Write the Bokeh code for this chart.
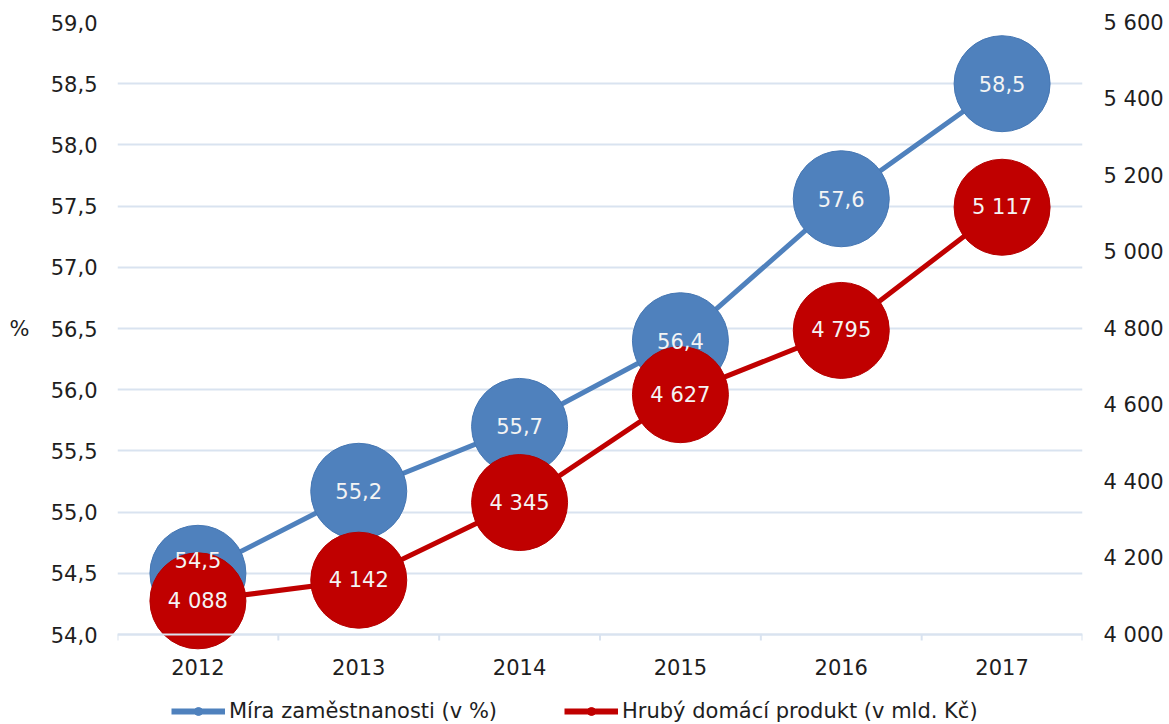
import numpy as np
from bokeh.plotting import figure
from bokeh.models import (Range1d, LinearAxis, FixedTicker, ColumnDataSource,
                          Legend, LegendItem, Span)
from bokeh.core.properties import value
from bokeh.embed import file_html
from bokeh.resources import INLINE

# ---------------- data ----------------
years = ["2012", "2013", "2014", "2015", "2016", "2017"]
employment = [54.5, 55.17, 55.7, 56.4, 57.56, 58.5]        # Míra zaměstnanosti (v %)
gdp = [4088, 4142, 4345, 4627, 4795, 5117]                  # HDP (v mld. Kč)
left_ticks = [54.0, 54.5, 55.0, 55.5, 56.0, 56.5, 57.0, 57.5, 58.0, 58.5, 59.0]
right_ticks = [4000, 4200, 4400, 4600, 4800, 5000, 5200, 5400, 5600]
series_names = ["Míra zaměstnanosti (v %)", "Hrubý domácí produkt (v mld. Kč)"]
left_title = "%"

# ---------------- styles / layout ----------------
FONT = "DejaVu Sans"
FS = "21px"
BLUE = "#4F81BD"
RED = "#C00000"
GRID = "#D9E3F0"
TXT = "#1E1E1E"
emp_label_dy = [-13, 0, 0, 0, 0, 0]   # label nudges (px), style only

W, H = 1167, 723
TOP, BASE = 22, 634          # canvas px of top gridline and of the base line
LEFT, RIGHT = 117, 1082      # canvas px of plot area edges
TICK_PX = 6
YEAR_DY = 32

px_per_unit = (BASE - TOP) / (left_ticks[-1] - left_ticks[0])
ext = (H - BASE) / px_per_unit                      # range extension below 54
ratio = (right_ticks[-1] - right_ticks[0]) / (left_ticks[-1] - left_ticks[0])


def cz_dec(v):
    return f"{v:.1f}".replace(".", ",")


def cz_thousands(v):
    return f"{int(v):,}".replace(",", " ")


x = list(np.arange(len(years)) + 0.5)
bounds = list(range(len(years) + 1))
y0 = left_ticks[0]
y_mid = (left_ticks[0] + left_ticks[-1]) / 2

src_emp = ColumnDataSource(dict(x=x, y=employment,
                                lab=[cz_dec(v) for v in employment],
                                dy=emp_label_dy))
src_gdp = ColumnDataSource(dict(x=x, y=gdp,
                                lab=[cz_thousands(v) for v in gdp]))

p = figure(width=W, height=H,
           x_range=Range1d(0, len(years)),
           y_range=Range1d(y0 - ext, left_ticks[-1]),
           output_backend="svg", toolbar_location=None,
           min_border_left=LEFT, min_border_right=W - RIGHT, min_border_top=TOP,
           min_border_bottom=0)
p.extra_y_ranges = {"gdp": Range1d(right_ticks[0] - ext * ratio, right_ticks[-1])}
p.outline_line_color = None
p.background_fill_color = "white"
p.border_fill_color = "white"
p.xaxis.visible = False


def style_axis(ax, standoff):
    ax.axis_line_color = None
    ax.major_tick_line_color = None
    ax.minor_tick_line_color = None
    ax.major_tick_out = 0
    ax.major_tick_in = 0
    ax.major_label_standoff = standoff
    ax.major_label_text_font = FONT
    ax.major_label_text_font_size = FS
    ax.major_label_text_color = TXT


# left y axis
ya = p.yaxis[0]
ya.ticker = FixedTicker(ticks=left_ticks)
ya.major_label_overrides = {float(t): cz_dec(t) for t in left_ticks}
style_axis(ya, 20)

# outer left axis carrying only the "%" title, level with the middle tick
ta = LinearAxis(ticker=FixedTicker(ticks=[y_mid]))
ta.major_label_overrides = {float(y_mid): left_title}
style_axis(ta, 18)
p.add_layout(ta, "left")

# right y axis
ra = LinearAxis(y_range_name="gdp", ticker=FixedTicker(ticks=right_ticks))
ra.major_label_overrides = {int(t): cz_thousands(t) for t in right_ticks}
style_axis(ra, 21)
p.add_layout(ra, "right")

p.xgrid.grid_line_color = None
p.ygrid.ticker = FixedTicker(ticks=left_ticks)
p.ygrid.grid_line_color = GRID
p.ygrid.grid_line_width = 2

# category axis drawn by hand (base line, boundary ticks, year labels)
p.add_layout(Span(location=y0, dimension="width", line_color=GRID, line_width=2))
p.segment(x0=bounds, y0=[y0] * len(bounds), x1=bounds,
          y1=[y0 - TICK_PX / px_per_unit] * len(bounds),
          line_color=GRID, line_width=2)
p.text(x=x, y=[y0] * len(x), text=years, y_offset=YEAR_DY,
       text_align="center", text_baseline="middle",
       text_font=value(FONT), text_font_size=FS, text_color=TXT)

# ---------- series ----------
p.line("x", "y", source=src_emp, line_color=BLUE, line_width=5)
p.scatter("x", "y", source=src_emp, size=96, fill_color=BLUE,
          line_color="#4677B3", line_width=1)
p.line("x", "y", source=src_gdp, line_color=RED, line_width=5, y_range_name="gdp")
p.scatter("x", "y", source=src_gdp, size=96, fill_color=RED,
          line_color="#B50000", line_width=1, y_range_name="gdp")

p.text("x", "y", text="lab", source=src_emp, y_offset="dy",
       text_align="center", text_baseline="middle",
       text_font=value(FONT), text_font_size=FS, text_color="#F4F4F4")
p.text("x", "y", text="lab", source=src_gdp, y_range_name="gdp",
       text_align="center", text_baseline="middle",
       text_font=value(FONT), text_font_size=FS, text_color="#F4F4F4")

# ---------- legend (invisible stand-in renderers) ----------
nan = float("nan")
lb1 = p.line(x=[nan], y=[nan], line_color=BLUE, line_width=6)
sb1 = p.scatter(x=[nan], y=[nan], size=11, fill_color=BLUE, line_color=BLUE)
lb2 = p.line(x=[nan], y=[nan], line_color=RED, line_width=6)
sb2 = p.scatter(x=[nan], y=[nan], size=11, fill_color=RED, line_color=RED)

legend = Legend(items=[LegendItem(label=series_names[0], renderers=[lb1, sb1]),
                       LegendItem(label=series_names[1], renderers=[lb2, sb2])],
                orientation="horizontal", location=(171 - LEFT, 0),
                glyph_width=54, glyph_height=20, label_standoff=4,
                spacing=67, padding=0, margin=0,
                border_line_color=None, background_fill_alpha=0,
                label_text_font=FONT, label_text_font_size=FS,
                label_text_color=TXT)
p.add_layout(legend)

open("out.html", "w").write(file_html(p, INLINE))
